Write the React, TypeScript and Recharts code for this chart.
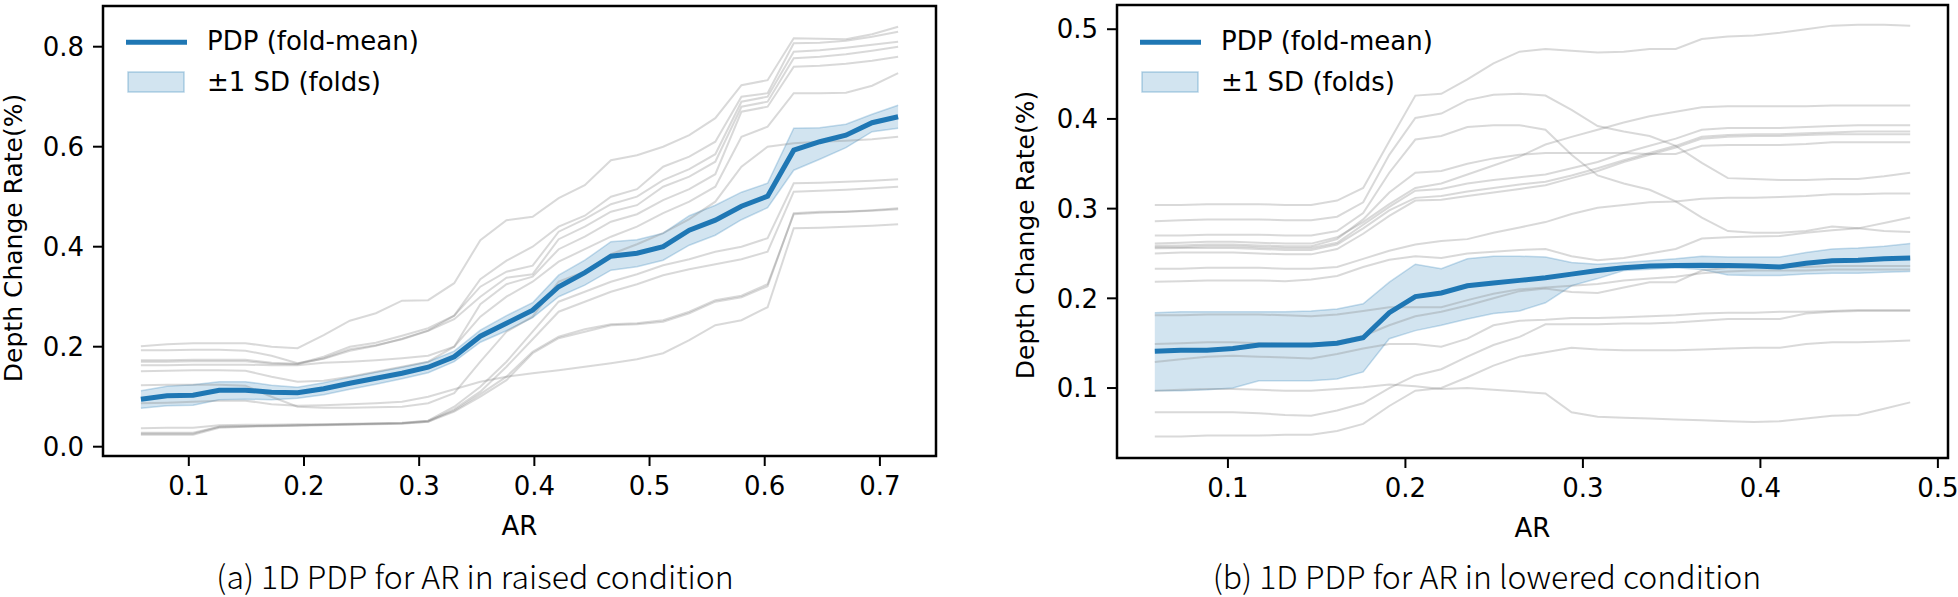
import React from 'react';
import { ComposedChart, Line, Area, XAxis, YAxis, ReferenceArea, Legend } from 'recharts';

const BLUE = '#1f77b4';
const TICK_FONT = 'DejaVu Sans';
const CAPTION_FONT = '"Noto Sans CJK KR", "Noto Sans", sans-serif';

// ─── (a) raised condition ────────────────────────────────
const raisedAR = [
  0.0584, 0.0811, 0.1037, 0.1264, 0.1491, 0.1718, 0.1944, 0.2171, 0.2398, 0.2624,
  0.2851, 0.3078, 0.3304, 0.3531, 0.3758, 0.3985, 0.4211, 0.4438, 0.4665, 0.4891,
  0.5118, 0.5345, 0.5571, 0.5798, 0.6025, 0.6252, 0.6478, 0.6705, 0.6932, 0.7158,
];
const raisedMean = [
  0.095, 0.102, 0.103, 0.113, 0.113, 0.109, 0.108, 0.116, 0.127, 0.137,
  0.147, 0.159, 0.180, 0.221, 0.247, 0.273, 0.320, 0.348, 0.381, 0.387,
  0.400, 0.433, 0.453, 0.481, 0.501, 0.593, 0.610, 0.623, 0.648, 0.660,
];
const raisedUpper = [
  0.112, 0.121, 0.124, 0.130, 0.130, 0.123, 0.119, 0.128, 0.139, 0.149,
  0.159, 0.170, 0.191, 0.233, 0.262, 0.288, 0.343, 0.373, 0.410, 0.414,
  0.427, 0.462, 0.483, 0.509, 0.527, 0.637, 0.638, 0.645, 0.665, 0.683,
];
const raisedLower = [
  0.077, 0.082, 0.083, 0.094, 0.095, 0.094, 0.097, 0.104, 0.115, 0.125,
  0.136, 0.148, 0.170, 0.209, 0.232, 0.258, 0.300, 0.323, 0.353, 0.360,
  0.373, 0.403, 0.423, 0.454, 0.478, 0.553, 0.575, 0.598, 0.630, 0.637,
];
const raisedCurves = [
  [0.201, 0.205, 0.207, 0.207, 0.207, 0.200, 0.197, 0.223, 0.252, 0.267, 0.292, 0.293, 0.327, 0.413, 0.453, 0.460, 0.497, 0.523, 0.573, 0.583, 0.600, 0.623, 0.657, 0.723, 0.733, 0.817, 0.816, 0.815, 0.825, 0.840],
  [0.193, 0.193, 0.194, 0.194, 0.192, 0.182, 0.167, 0.176, 0.192, 0.202, 0.216, 0.232, 0.262, 0.335, 0.372, 0.400, 0.440, 0.462, 0.500, 0.515, 0.560, 0.580, 0.610, 0.700, 0.707, 0.807, 0.808, 0.812, 0.820, 0.830],
  [0.173, 0.173, 0.174, 0.174, 0.174, 0.168, 0.166, 0.180, 0.200, 0.208, 0.222, 0.237, 0.262, 0.320, 0.350, 0.362, 0.430, 0.455, 0.485, 0.500, 0.533, 0.555, 0.585, 0.690, 0.700, 0.790, 0.793, 0.798, 0.804, 0.810],
  [0.170, 0.170, 0.171, 0.171, 0.171, 0.166, 0.165, 0.177, 0.195, 0.203, 0.215, 0.232, 0.255, 0.300, 0.338, 0.345, 0.415, 0.440, 0.470, 0.483, 0.520, 0.540, 0.570, 0.680, 0.690, 0.777, 0.780, 0.785, 0.792, 0.800],
  [0.163, 0.163, 0.164, 0.164, 0.164, 0.163, 0.163, 0.168, 0.170, 0.173, 0.177, 0.182, 0.200, 0.285, 0.325, 0.340, 0.395, 0.420, 0.450, 0.465, 0.493, 0.515, 0.545, 0.670, 0.680, 0.760, 0.762, 0.766, 0.772, 0.780],
  [0.151, 0.152, 0.153, 0.153, 0.152, 0.140, 0.130, 0.132, 0.140, 0.150, 0.160, 0.170, 0.200, 0.260, 0.300, 0.330, 0.370, 0.395, 0.420, 0.440, 0.467, 0.490, 0.520, 0.620, 0.640, 0.707, 0.707, 0.708, 0.722, 0.747],
  [0.123, 0.124, 0.124, 0.124, 0.122, 0.100, 0.080, 0.078, 0.078, 0.079, 0.080, 0.087, 0.107, 0.170, 0.230, 0.260, 0.330, 0.350, 0.385, 0.405, 0.427, 0.455, 0.490, 0.560, 0.600, 0.607, 0.610, 0.612, 0.615, 0.620],
  [0.087, 0.088, 0.090, 0.092, 0.092, 0.085, 0.082, 0.083, 0.085, 0.087, 0.090, 0.100, 0.115, 0.130, 0.140, 0.147, 0.153, 0.160, 0.167, 0.175, 0.187, 0.213, 0.243, 0.253, 0.279, 0.437, 0.438, 0.440, 0.442, 0.445],
  [0.037, 0.038, 0.038, 0.043, 0.044, 0.044, 0.045, 0.045, 0.046, 0.047, 0.048, 0.052, 0.080, 0.120, 0.170, 0.230, 0.290, 0.310, 0.330, 0.345, 0.363, 0.375, 0.390, 0.400, 0.417, 0.527, 0.528, 0.530, 0.532, 0.535],
  [0.028, 0.028, 0.028, 0.040, 0.041, 0.042, 0.043, 0.044, 0.045, 0.046, 0.047, 0.050, 0.075, 0.110, 0.160, 0.215, 0.270, 0.290, 0.310, 0.325, 0.343, 0.355, 0.365, 0.375, 0.390, 0.510, 0.512, 0.514, 0.517, 0.520],
  [0.024, 0.024, 0.024, 0.038, 0.040, 0.041, 0.042, 0.043, 0.044, 0.045, 0.046, 0.050, 0.070, 0.100, 0.133, 0.187, 0.217, 0.230, 0.243, 0.245, 0.250, 0.267, 0.290, 0.299, 0.321, 0.467, 0.470, 0.470, 0.473, 0.477],
  [0.026, 0.026, 0.026, 0.040, 0.041, 0.042, 0.043, 0.044, 0.045, 0.046, 0.047, 0.052, 0.072, 0.105, 0.140, 0.190, 0.220, 0.235, 0.245, 0.247, 0.253, 0.270, 0.293, 0.302, 0.325, 0.465, 0.468, 0.470, 0.472, 0.475],
];
const raisedXTicks = [0.1, 0.2, 0.3, 0.4, 0.5, 0.6, 0.7];
const raisedYTicks = [0.0, 0.2, 0.4, 0.6, 0.8];

// ─── (b) lowered condition ───────────────────────────────
const loweredAR = [
  0.0588, 0.0735, 0.0882, 0.1028, 0.1175, 0.1322, 0.1469, 0.1615, 0.1762, 0.1909,
  0.2056, 0.2202, 0.2349, 0.2496, 0.2643, 0.2789, 0.2936, 0.3083, 0.3230, 0.3376,
  0.3523, 0.3670, 0.3817, 0.3963, 0.4110, 0.4257, 0.4404, 0.4550, 0.4697, 0.4844,
];
const loweredMean = [
  0.141, 0.142, 0.142, 0.144, 0.148, 0.148, 0.148, 0.150, 0.156, 0.184,
  0.202, 0.206, 0.214, 0.217, 0.220, 0.223, 0.227, 0.231, 0.234, 0.236,
  0.2365, 0.237, 0.2365, 0.236, 0.235, 0.239, 0.242, 0.2425, 0.244, 0.245,
];
const loweredUpper = [
  0.184, 0.185, 0.185, 0.185, 0.185, 0.185, 0.186, 0.188, 0.194, 0.218,
  0.238, 0.233, 0.244, 0.247, 0.247, 0.246, 0.240, 0.238, 0.240, 0.242,
  0.244, 0.247, 0.246, 0.246, 0.246, 0.251, 0.255, 0.256, 0.258, 0.261,
];
const loweredLower = [
  0.097, 0.097, 0.098, 0.100, 0.108, 0.108, 0.108, 0.110, 0.118, 0.155,
  0.164, 0.170, 0.177, 0.183, 0.186, 0.195, 0.214, 0.222, 0.231, 0.2325,
  0.234, 0.232, 0.226, 0.2255, 0.2255, 0.227, 0.228, 0.228, 0.229, 0.230,
];
const loweredCurves = [
  [0.304, 0.304, 0.305, 0.305, 0.305, 0.304, 0.304, 0.309, 0.323, 0.375, 0.426, 0.428, 0.444, 0.462, 0.475, 0.478, 0.476, 0.474, 0.475, 0.478, 0.478, 0.489, 0.492, 0.493, 0.496, 0.500, 0.504, 0.505, 0.505, 0.504],
  [0.286, 0.287, 0.288, 0.288, 0.288, 0.287, 0.287, 0.291, 0.307, 0.360, 0.401, 0.406, 0.421, 0.427, 0.428, 0.426, 0.410, 0.392, 0.386, 0.381, 0.370, 0.351, 0.334, 0.333, 0.332, 0.332, 0.333, 0.333, 0.336, 0.340],
  [0.270, 0.270, 0.271, 0.271, 0.271, 0.270, 0.270, 0.275, 0.295, 0.340, 0.377, 0.381, 0.391, 0.393, 0.393, 0.388, 0.360, 0.337, 0.328, 0.321, 0.308, 0.290, 0.275, 0.273, 0.273, 0.275, 0.280, 0.278, 0.275, 0.274],
  [0.261, 0.262, 0.263, 0.263, 0.262, 0.261, 0.261, 0.268, 0.285, 0.305, 0.323, 0.328, 0.338, 0.348, 0.358, 0.3715, 0.380, 0.388, 0.396, 0.403, 0.408, 0.413, 0.414, 0.414, 0.414, 0.414, 0.415, 0.415, 0.415, 0.415],
  [0.2585, 0.259, 0.260, 0.260, 0.259, 0.258, 0.258, 0.266, 0.288, 0.318, 0.340, 0.342, 0.350, 0.356, 0.360, 0.362, 0.362, 0.362, 0.362, 0.361, 0.361, 0.370, 0.371, 0.371, 0.371, 0.372, 0.374, 0.374, 0.374, 0.374],
  [0.257, 0.257, 0.258, 0.258, 0.257, 0.256, 0.256, 0.262, 0.282, 0.302, 0.320, 0.322, 0.328, 0.332, 0.335, 0.338, 0.345, 0.352, 0.362, 0.370, 0.378, 0.388, 0.390, 0.390, 0.390, 0.391, 0.392, 0.393, 0.393, 0.393],
  [0.2557, 0.256, 0.256, 0.256, 0.255, 0.254, 0.254, 0.260, 0.278, 0.298, 0.312, 0.314, 0.319, 0.323, 0.327, 0.330, 0.337, 0.345, 0.354, 0.362, 0.370, 0.380, 0.382, 0.383, 0.383, 0.384, 0.385, 0.386, 0.386, 0.386],
  [0.250, 0.251, 0.251, 0.251, 0.250, 0.249, 0.249, 0.255, 0.272, 0.292, 0.309, 0.310, 0.314, 0.318, 0.322, 0.326, 0.334, 0.342, 0.352, 0.360, 0.368, 0.378, 0.380, 0.381, 0.381, 0.382, 0.383, 0.383, 0.383, 0.383],
  [0.233, 0.233, 0.234, 0.234, 0.234, 0.233, 0.233, 0.235, 0.244, 0.253, 0.260, 0.264, 0.266, 0.273, 0.279, 0.285, 0.294, 0.301, 0.304, 0.307, 0.308, 0.311, 0.312, 0.312, 0.313, 0.314, 0.316, 0.316, 0.317, 0.317],
  [0.2185, 0.219, 0.220, 0.220, 0.220, 0.219, 0.221, 0.225, 0.235, 0.243, 0.247, 0.245, 0.250, 0.252, 0.254, 0.255, 0.247, 0.2425, 0.245, 0.250, 0.255, 0.2667, 0.268, 0.269, 0.2694, 0.273, 0.276, 0.278, 0.284, 0.290],
  [0.181, 0.181, 0.182, 0.182, 0.182, 0.181, 0.180, 0.182, 0.186, 0.190, 0.190, 0.190, 0.198, 0.205, 0.210, 0.212, 0.214, 0.216, 0.220, 0.222, 0.224, 0.228, 0.230, 0.231, 0.231, 0.231, 0.232, 0.232, 0.232, 0.232],
  [0.149, 0.150, 0.151, 0.151, 0.150, 0.149, 0.149, 0.152, 0.158, 0.170, 0.180, 0.185, 0.192, 0.200, 0.208, 0.211, 0.207, 0.206, 0.212, 0.218, 0.218, 0.231, 0.234, 0.235, 0.235, 0.235, 0.236, 0.236, 0.236, 0.236],
  [0.129, 0.132, 0.135, 0.136, 0.135, 0.134, 0.133, 0.138, 0.144, 0.149, 0.149, 0.146, 0.155, 0.170, 0.175, 0.176, 0.178, 0.178, 0.179, 0.180, 0.181, 0.183, 0.184, 0.184, 0.185, 0.185, 0.186, 0.187, 0.187, 0.187],
  [0.073, 0.073, 0.073, 0.073, 0.072, 0.070, 0.069, 0.075, 0.083, 0.100, 0.114, 0.121, 0.135, 0.148, 0.157, 0.171, 0.171, 0.171, 0.172, 0.172, 0.173, 0.175, 0.177, 0.177, 0.177, 0.183, 0.185, 0.186, 0.186, 0.186],
  [0.046, 0.046, 0.047, 0.047, 0.047, 0.048, 0.048, 0.052, 0.060, 0.080, 0.097, 0.100, 0.112, 0.125, 0.135, 0.140, 0.145, 0.143, 0.142, 0.142, 0.142, 0.143, 0.144, 0.145, 0.145, 0.149, 0.151, 0.151, 0.152, 0.153],
  [0.097, 0.098, 0.099, 0.099, 0.098, 0.097, 0.097, 0.099, 0.101, 0.104, 0.102, 0.099, 0.100, 0.098, 0.096, 0.094, 0.073, 0.068, 0.067, 0.066, 0.065, 0.064, 0.063, 0.062, 0.063, 0.066, 0.069, 0.070, 0.077, 0.084],
];
const loweredXTicks = [0.1, 0.2, 0.3, 0.4, 0.5];
const loweredYTicks = [0.1, 0.2, 0.3, 0.4, 0.5];

interface PanelProps {
  ar: number[];
  mean: number[];
  upper: number[];
  lower: number[];
  curves: number[][];
  xDomain: [number, number];
  yDomain: [number, number];
  xTicks: number[];
  yTicks: number[];
  caption: string;
  left: number;
  width: number;
  marginTop: number;
  marginRight: number;
  yAxisWidth: number;
  xAxisHeight: number;
  yLabelX: number;
  yLabelY: number;
  arY: number;
  captionX: number;
  captionY: number;
  legendLeft: number;
}

const LegendBox = () => (
  <svg width={330} height={100} style={{ display: 'block', overflow: 'visible' }}>
    <line x1={0} x2={61} y1={42.3} y2={42.3} stroke={BLUE} strokeWidth={5} />
    <rect x={2} y={72} width={56} height={20} fill={BLUE} fillOpacity={0.2} stroke={BLUE} strokeOpacity={0.3} strokeWidth={1.5} />
    <text x={81} y={50} fontFamily={TICK_FONT} fontSize={26} fill="#000">PDP (fold-mean)</text>
    <text x={81} y={90.5} fontFamily={TICK_FONT} fontSize={26} fill="#000">±1 SD (folds)</text>
  </svg>
);

function PdpPanel(p: PanelProps) {
  const rows = p.ar.map((x, i) => {
    const row: any = { x, mean: p.mean[i], band: [p.lower[i], p.upper[i]] };
    p.curves.forEach((c, k) => { row[`c${k}`] = c[i]; });
    return row;
  });
  const height = 597;

  return (
    <div style={{ position: 'absolute', left: p.left, top: 0, width: p.width, height }}>
      <ComposedChart
        width={p.width}
        height={height}
        data={rows}
        margin={{ top: p.marginTop, right: p.marginRight, left: 0, bottom: 0 }}
      >
        <XAxis
          dataKey="x"
          type="number"
          domain={p.xDomain}
          ticks={p.xTicks}
          allowDataOverflow
          interval={0}
          height={p.xAxisHeight}
          axisLine={false}
          tickSize={10}
          tickMargin={11}
          tickLine={{ stroke: '#000', strokeWidth: 2 }}
          tick={{ fill: '#000', fontSize: 26, fontFamily: TICK_FONT }}
          tickFormatter={(v: number) => v.toFixed(1)}
          label={(lp: any) => {
            const vb = lp.viewBox || {};
            const cx = (vb.x ?? 0) + (vb.width ?? 0) / 2;
            return (
              <g>
                <text x={cx} y={p.arY} textAnchor="middle" fontFamily={TICK_FONT} fontSize={26} fill="#000">AR</text>
                <text x={p.captionX} y={p.captionY} textAnchor="middle" fontFamily={CAPTION_FONT} fontSize={32} fontWeight={300} fill="#000">{p.caption}</text>
              </g>
            );
          }}
        />
        <YAxis
          type="number"
          domain={p.yDomain}
          ticks={p.yTicks}
          allowDataOverflow
          interval={0}
          width={p.yAxisWidth}
          axisLine={false}
          tickSize={10}
          tickMargin={9}
          tickLine={{ stroke: '#000', strokeWidth: 2 }}
          tick={{ fill: '#000', fontSize: 26, fontFamily: TICK_FONT }}
          tickFormatter={(v: number) => v.toFixed(1)}
          label={() => (
            <text
              x={p.yLabelX}
              y={p.yLabelY}
              transform={`rotate(-90 ${p.yLabelX} ${p.yLabelY})`}
              textAnchor="middle"
              fontFamily={TICK_FONT}
              fontSize={25}
              fill="#000"
            >
              Depth Change Rate(%)
            </text>
          )}
        />
        {p.curves.map((_, k) => (
          <Line
            key={k}
            dataKey={`c${k}`}
            type="linear"
            stroke="#808080"
            strokeOpacity={0.3}
            strokeWidth={2}
            dot={false}
            activeDot={false}
            legendType="none"
            isAnimationActive={false}
          />
        ))}
        <Area
          dataKey="band"
          type="linear"
          name="±1 SD (folds)"
          stroke={BLUE}
          strokeOpacity={0.25}
          strokeWidth={1.5}
          fill={BLUE}
          fillOpacity={0.2}
          dot={false}
          activeDot={false}
          isAnimationActive={false}
        />
        <Line
          dataKey="mean"
          type="linear"
          name="PDP (fold-mean)"
          stroke={BLUE}
          strokeWidth={5}
          dot={false}
          activeDot={false}
          isAnimationActive={false}
        />
        <ReferenceArea
          x1={p.xDomain[0]}
          x2={p.xDomain[1]}
          y1={p.yDomain[0]}
          y2={p.yDomain[1]}
          fill="none"
          stroke="#000"
          strokeWidth={2.5}
          ifOverflow="visible"
        />
        <Legend
          layout="vertical"
          align="center"
          verticalAlign="middle"
          content={() => <LegendBox />}
          wrapperStyle={{ left: p.legendLeft, top: 0, width: 330, height: 100 }}
        />
      </ComposedChart>
    </div>
  );
}

export default function App() {
  return (
    <div style={{ position: 'absolute', left: 0, top: 0, width: 1958, height: 597, background: '#fff', overflow: 'hidden' }}>
      <PdpPanel
        ar={raisedAR}
        mean={raisedMean}
        upper={raisedUpper}
        lower={raisedLower}
        curves={raisedCurves}
        xDomain={[0.0255, 0.7487]}
        yDomain={[-0.0186, 0.8814]}
        xTicks={raisedXTicks}
        yTicks={raisedYTicks}
        caption="(a) 1D PDP for AR in raised condition"
        left={0}
        width={980}
        marginTop={6}
        marginRight={44}
        yAxisWidth={103}
        xAxisHeight={141}
        yLabelX={22}
        yLabelY={238}
        arY={535}
        captionX={475}
        captionY={589}
        legendLeft={126}
      />
      <PdpPanel
        ar={loweredAR}
        mean={loweredMean}
        upper={loweredUpper}
        lower={loweredLower}
        curves={loweredCurves}
        xDomain={[0.0375, 0.5057]}
        yDomain={[0.022, 0.527]}
        xTicks={loweredXTicks}
        yTicks={loweredYTicks}
        caption="(b) 1D PDP for AR in lowered condition"
        left={980}
        width={978}
        marginTop={5}
        marginRight={10}
        yAxisWidth={137}
        xAxisHeight={139}
        yLabelX={54}
        yLabelY={235}
        arY={537}
        captionX={507}
        captionY={589}
        legendLeft={160}
      />
    </div>
  );
}
